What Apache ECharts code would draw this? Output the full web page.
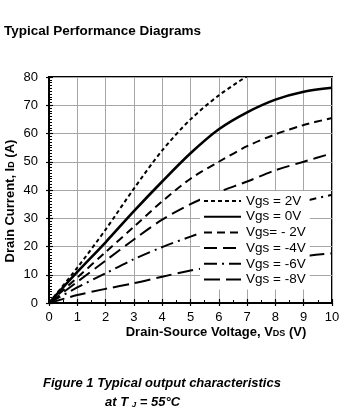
<!DOCTYPE html>
<html><head><meta charset="utf-8">
<script src="https://cdn.jsdelivr.net/npm/echarts@6/dist/echarts.min.js"></script>
<style>html,body{margin:0;padding:0;background:#fff}#c{width:364px;height:419px}</style>
</head><body><div id="c"></div>
<script>
// Drain-source voltage (V) sample points
const vds = [0, 1, 2, 3, 4, 5, 6, 7, 8, 9, 10];
// Drain current (A) per gate-source voltage
const idVgsP2 = [0, 12.5, 26, 40.5, 54, 65, 73.5, 80.3, null, null, null];
const idVgs0 = [0, 11, 21.5, 32.5, 43, 53, 61.5, 67.5, 72, 74.8, 76.2];
const idVgsM2 = [0, 9, 18, 27, 36, 44, 50, 55.5, 59.7, 63, 65.5];
const idVgsM4 = [0, 7.5, 15, 22.5, 29.5, 35, 39.3, 43, 47, 50, 53];
const idVgsM6 = [0, 5.5, 10.5, 15.5, 19.8, 23.5, 27, 30.3, 33.3, 36, 38.3];
const idVgsM8 = [0, 2.8, 5, 7, 9.3, 11.5, 13, 14.3, 15.5, 16.6, 17.6];
const seriesNames = ['Vgs = 2V', 'Vgs = 0V', 'Vgs= - 2V', 'Vgs = -4V', 'Vgs = -6V', 'Vgs = -8V'];
const seriesValues = [idVgsP2, idVgs0, idVgsM2, idVgsM4, idVgsM6, idVgsM8];
const xMin = 0, xMax = 10, xStep = 1;
const yMin = 0, yMax = 80, yStep = 10;

const FONT = "'Liberation Sans', Arial, sans-serif";
const styles = [
  {width: 2, type: [4, 3]},
  {width: 2.6, type: 'solid'},
  {width: 2, type: [8, 5]},
  {width: 2, type: [13, 6]},
  {width: 2, type: [13, 5, 2, 5]},
  {width: 2, type: [16, 6]}
];

function pairs(vals) {
  const out = [];
  vals.forEach((v, i) => { if (v !== null) out.push([vds[i], v]); });
  return out;
}

const series = seriesNames.map((name, i) => ({
  name: name,
  type: 'line',
  xAxisIndex: 0, yAxisIndex: 0,
  data: pairs(seriesValues[i]),
  symbol: 'none',
  smooth: 0.3,
  lineStyle: {color: '#000', width: styles[i].width, type: styles[i].type},
  itemStyle: {color: '#000'},
  z: 3
}));

const chart = echarts.init(document.getElementById('c'), null, {renderer: 'canvas'});
chart.setOption({
  animation: false,
  backgroundColor: '#fff',
  textStyle: {fontFamily: FONT},
  grid: {left: 49, top: 77, width: 283, height: 226, show: true, borderColor: '#000', borderWidth: 2, containLabel: false},
  xAxis: [{
    type: 'value', min: xMin, max: xMax, interval: xStep, position: 'bottom',
    axisLine: {show: true, lineStyle: {color: '#000', width: 2}},
    axisTick: {show: true, inside: true, length: 4, lineStyle: {color: '#000', width: 1.2}},
    minorTick: {show: true, splitNumber: 2, length: 3, lineStyle: {color: '#000', width: 1}},
    axisLabel: {margin: 8, fontSize: 13, color: '#000', fontFamily: FONT},
    splitLine: {show: true, lineStyle: {color: '#a6a6a6', width: 1}}
  }, {
    type: 'value', min: xMin, max: xMax, interval: xStep, position: 'bottom',
    axisLine: {show: false},
    axisTick: {show: true, inside: false, length: 3, lineStyle: {color: '#000', width: 1.2}},
    axisLabel: {show: false}, splitLine: {show: false}
  }],
  yAxis: [{
    type: 'value', min: yMin, max: yMax, interval: yStep, position: 'left',
    axisLine: {show: true, lineStyle: {color: '#000', width: 2}},
    axisTick: {show: true, inside: true, length: 4, lineStyle: {color: '#000', width: 1.2}},
    minorTick: {show: true, splitNumber: 10, length: 3, lineStyle: {color: '#000', width: 1}},
    axisLabel: {margin: 11, fontSize: 13, color: '#000', fontFamily: FONT},
    splitLine: {show: true, lineStyle: {color: '#a6a6a6', width: 1}}
  }, {
    type: 'value', min: yMin, max: yMax, interval: yStep, position: 'left',
    axisLine: {show: false},
    axisTick: {show: true, inside: false, length: 3, lineStyle: {color: '#000', width: 1.2}},
    axisLabel: {show: false}, splitLine: {show: false}
  }],
  legend: {
    orient: 'vertical', left: 200, top: 191,
    itemWidth: 37, itemHeight: 14, itemGap: 1.7,
    padding: [3, 4, 3, 3],
    backgroundColor: '#fff',
    data: seriesNames,
    itemStyle: {color: 'rgba(0,0,0,0)', borderWidth: 0},
    textStyle: {fontSize: 13.5, lineHeight: 14, color: '#000', fontFamily: FONT},
    z: 10
  },
  graphic: [
    {type: 'text', left: 4, top: 24, style: {text: 'Typical Performance Diagrams', font: "bold 13.5px 'Liberation Sans', Arial, sans-serif", fill: '#000'}},
    {type: 'text', x: 10, y: 201, rotation: Math.PI / 2,
      style: {text: 'Drain Current, I{sub|D} (A)', fill: '#000', font: "bold 13px 'Liberation Sans', Arial, sans-serif",
        align: 'center', verticalAlign: 'middle', textAlign: 'center', textVerticalAlign: 'middle',
        rich: {sub: {fontSize: 9, fontWeight: 'bold', fontFamily: FONT, verticalAlign: 'bottom', lineHeight: 9}}}},
    {type: 'text', x: 216, y: 332,
      style: {text: 'Drain-Source Voltage, V{sub|DS} (V)', fill: '#000', font: "bold 13px 'Liberation Sans', Arial, sans-serif",
        align: 'center', verticalAlign: 'middle', textAlign: 'center', textVerticalAlign: 'middle',
        rich: {sub: {fontSize: 9, fontWeight: 'bold', fontFamily: FONT, verticalAlign: 'bottom', lineHeight: 9}}}},
    {type: 'text', x: 43, y: 383,
      style: {text: 'Figure 1 Typical output characteristics', fill: '#000', font: "italic bold 13px 'Liberation Sans', Arial, sans-serif",
        align: 'left', verticalAlign: 'middle', textAlign: 'left', textVerticalAlign: 'middle'}},
    {type: 'text', x: 105, y: 402,
      style: {text: 'at T {sub|J} = 55°C', fill: '#000', font: "italic bold 13px 'Liberation Sans', Arial, sans-serif",
        align: 'left', verticalAlign: 'middle', textAlign: 'left', textVerticalAlign: 'middle',
        rich: {sub: {fontSize: 8, fontStyle: 'italic', fontWeight: 'bold', fontFamily: FONT, verticalAlign: 'bottom', lineHeight: 8}}}}
  ],
  series: series
});
</script>
</body></html>
